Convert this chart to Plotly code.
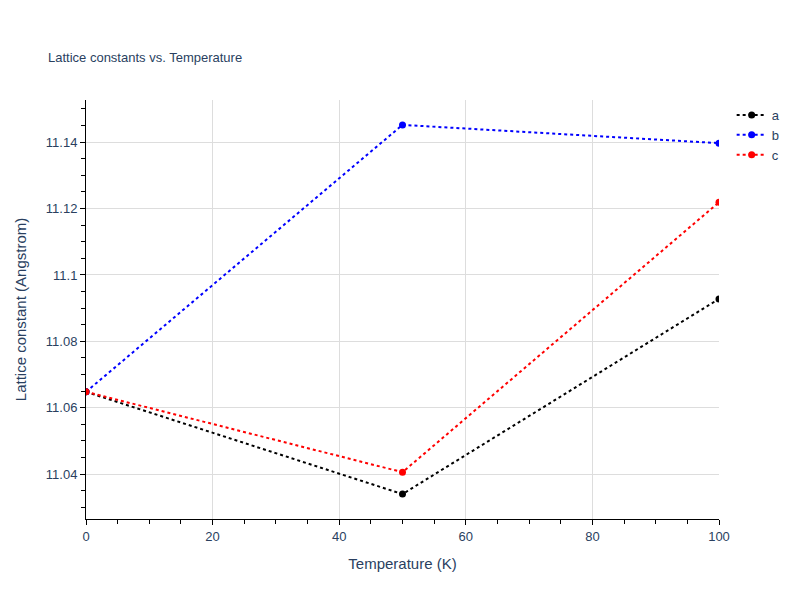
import plotly.graph_objects as go

temps = [0, 50, 100]
a_vals = [11.0648, 11.0340, 11.0928]
b_vals = [11.0648, 11.1452, 11.1397]
c_vals = [11.0648, 11.0406, 11.1219]

fig = go.Figure()
for name, vals, col in [("a", a_vals, "black"), ("b", b_vals, "blue"), ("c", c_vals, "red")]:
    fig.add_trace(go.Scatter(x=temps, y=vals, name=name, mode="lines+markers",
                             line=dict(color=col, dash="dot", width=2),
                             marker=dict(color=col, size=7)))

axis_common = dict(showline=True, linecolor="black", linewidth=1, ticks="outside",
                   tickcolor="black", gridcolor="#dddddd", zeroline=False,
                   tickfont=dict(size=13),
                   minor=dict(ticks="outside", tickcolor="black", ticklen=4, showgrid=False))
fig.update_layout(
    template="plotly_white",
    width=800, height=600,
    font=dict(family="Liberation Sans, Arial, sans-serif"),
    title=dict(text="Lattice constants vs. Temperature", x=0.05, y=0.925, font=dict(size=13)),
    margin=dict(l=72, r=89, t=92, b=89),
    xaxis=dict(title=dict(text="Temperature (K)", font=dict(size=15)), range=[0, 100], dtick=20, **axis_common),
    yaxis=dict(title=dict(text="Lattice constant (Angstrom)", font=dict(size=15)), range=[11.0265, 11.1527], dtick=0.02, **axis_common),
    legend=dict(x=1.02, y=1, font=dict(size=13)),
)
fig.update_xaxes(minor_dtick=5)
fig.update_yaxes(minor_dtick=0.005)
fig.write_html("out.html")
